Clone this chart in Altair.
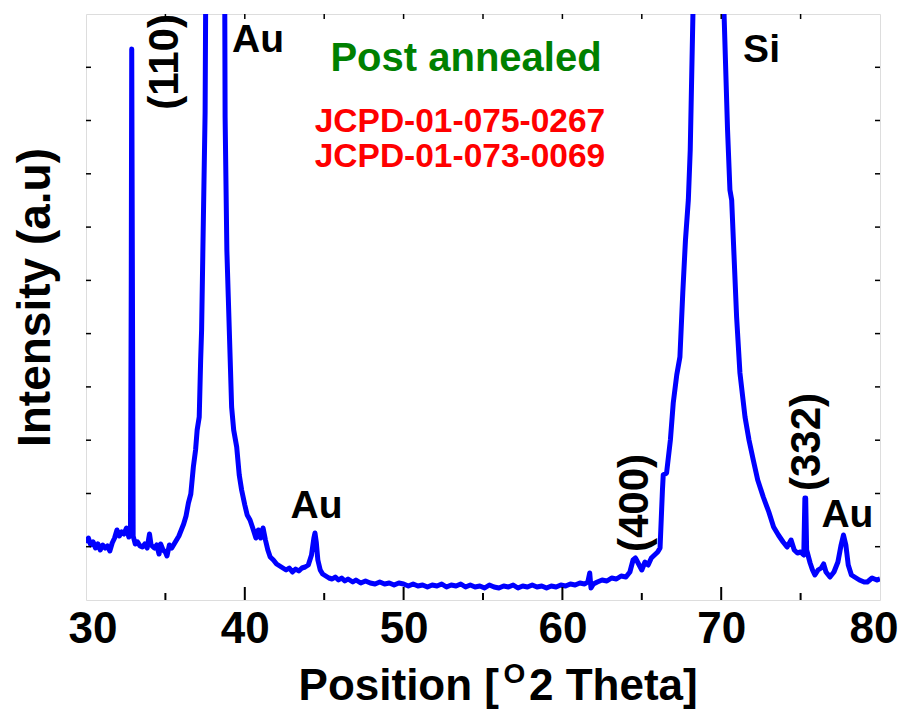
import altair as alt
import pandas as pd

# ---- XRD pattern (2theta, intensity a.u.) ----
two_theta = [
    30.0, 30.15, 30.3, 30.45, 30.6, 30.75, 30.9, 31.05, 31.2, 31.35, 31.5, 31.65, 31.8, 31.95,
    32.1, 32.25, 32.4, 32.55, 32.7, 32.8, 32.85, 32.88, 32.92, 32.97, 33.1, 33.25, 33.4, 33.55,
    33.7, 33.85, 34.0, 34.1, 34.3, 34.45, 34.6, 34.7, 34.85, 35.0, 35.1, 35.25, 35.4, 35.55,
    35.7, 35.85, 36.0, 36.15, 36.3, 36.45, 36.6, 36.76, 36.9, 37.0, 37.13, 37.22, 37.28, 37.38,
    37.5, 37.57, 37.7, 38.2, 38.6, 38.74, 38.76, 38.87, 38.96, 39.1, 39.17, 39.3, 39.49, 39.65,
    39.8, 40.0, 40.15, 40.33, 40.5, 40.7, 40.85, 41.0, 41.15, 41.3, 41.45, 41.6, 41.8, 42.0,
    42.2, 42.4, 42.6, 42.8, 43.0, 43.2, 43.4, 43.6, 43.8, 44.0, 44.2, 44.35, 44.42, 44.5,
    44.6, 44.75, 44.9, 45.1, 45.3, 45.5, 45.7, 45.9, 46.1, 46.3, 46.5, 46.8, 47.0, 47.3,
    47.6, 47.9, 48.2, 48.5, 48.8, 49.1, 49.4, 49.7, 50.0, 50.3, 50.6, 50.9, 51.2, 51.5,
    51.8, 52.1, 52.4, 52.7, 53.0, 53.3, 53.6, 53.9, 54.2, 54.5, 54.8, 55.1, 55.4, 55.7,
    56.0, 56.3, 56.6, 56.9, 57.2, 57.5, 57.8, 58.1, 58.4, 58.7, 59.0, 59.3, 59.6, 59.9,
    60.2, 60.5, 60.8, 61.1, 61.4, 61.6, 61.72, 61.8, 61.95, 62.2, 62.5, 62.8, 63.1, 63.4,
    63.7, 64.0, 64.25, 64.45, 64.6, 64.8, 65.0, 65.2, 65.4, 65.6, 65.8, 66.0, 66.15, 66.3,
    66.35, 66.56, 66.8, 66.98, 67.2, 67.4, 67.58, 67.75, 67.93, 68.05, 68.22, 68.4, 69.3, 70.0,
    70.18, 70.4, 70.55, 70.66, 70.97, 71.18, 71.5, 71.75, 72.02, 72.3, 72.65, 73.0, 73.3, 73.6,
    73.9, 74.15, 74.4, 74.6, 74.8, 75.0, 75.2, 75.27, 75.32, 75.38, 75.6, 75.75, 75.9, 76.1,
    76.3, 76.45, 76.6, 76.85, 77.1, 77.35, 77.55, 77.7, 77.85, 78.0, 78.2, 78.4, 78.7, 79.0,
    79.2, 79.5, 79.8, 80.0,
]
intensity = [
    57, 62, 55, 58, 52, 56, 50, 55, 52, 54, 49, 57, 62, 70,
    64, 68, 66, 72, 63, 66, 320, 551, 330, 64, 56, 58, 54, 53,
    56, 52, 66, 55, 52, 55, 46, 56, 50, 48, 44, 55, 52, 56,
    60, 64, 70, 76, 84, 97, 106, 133, 150, 170, 183, 240, 270, 370,
    487, 700, 1200, 2000, 1200, 586, 483, 350, 303, 230, 193, 170, 153, 125,
    110, 95, 85, 80, 72, 62, 70, 62, 72, 60, 50, 43, 40, 36,
    34, 32, 30, 32, 28, 31, 29, 32, 33, 35, 45, 62, 67, 58,
    40, 30, 26, 24, 22, 21, 23, 20, 22, 19, 21, 18, 20, 17,
    19, 17, 16, 18, 16, 17, 15, 17, 16, 14, 16, 14, 15, 13,
    15, 14, 16, 13, 15, 14, 16, 13, 15, 13, 14, 12, 15, 13,
    12, 14, 13, 15, 12, 14, 13, 15, 13, 14, 12, 14, 13, 15,
    14, 16, 15, 17, 16, 18, 27, 12, 16, 18, 20, 19, 22, 21,
    24, 23, 28, 40, 42, 36, 30, 38, 35, 42, 45, 48, 52, 110,
    125, 127, 160, 197, 225, 243, 307, 360, 400, 450, 586, 900, 2000, 900,
    586, 470, 410, 400, 283, 227, 183, 160, 140, 120, 103, 88, 73, 65,
    58, 53, 60, 50, 47, 48, 45, 102, 102, 50, 37, 30, 25, 30,
    32, 36, 28, 23, 28, 38, 55, 65, 55, 35, 25, 23, 20, 18,
    18, 22, 20, 21,
]

# ---- annotations ----
peak_labels = ["Au", "Au", "Au", "Si"]
peak_label_x = [40.83, 44.52, 77.95, 72.54]
peak_label_y = [548, 82, 73, 538]

hkl_labels = ["(110)", "(400)", "(332)"]
hkl_x = [34.97, 64.57, 75.43]
hkl_y = [538, 97, 158]

title_text = ["Post annealed"]
title_x = [53.93]
title_y = [529]

ref_text = ["JCPD-01-075-0267", "JCPD-01-073-0069"]
ref_x = [53.55, 53.55]
ref_y = [468, 433]

x_ticks_major = [40, 50, 60, 70]
x_ticks_minor = [35, 45, 55, 65, 75]
x_ticks_top = [35, 40, 45, 50, 55, 60, 65, 70, 75]
y_ticks = [53.3, 106.5, 159.8, 213.1, 266.4, 319.6, 372.9, 426.2, 479.5, 532.7]

W, H = 794, 586
FONT = "Liberation Sans"

xs = alt.Scale(domain=[30, 80], nice=False, zero=False)
ys = alt.Scale(domain=[0, 586], nice=False, zero=False)

curve = pd.DataFrame({"x": two_theta, "y": intensity})

line = alt.Chart(curve).mark_line(
    color="#0000FF", strokeWidth=5, clip=True, strokeJoin="round"
).encode(
    x=alt.X("x:Q", scale=xs,
            axis=alt.Axis(values=[30, 40, 50, 60, 70, 80], ticks=False, tickSize=0, domain=False,
                          grid=False, labelFont=FONT, labelFontSize=44, labelFontWeight="bold",
                          labelColor="black", labelPadding=7, labelFlush=True,
                          labelFlushOffset=18, title=None)),
    y=alt.Y("y:Q", scale=ys,
            axis=alt.Axis(labels=False, ticks=False, tickSize=0, domain=False, grid=False,
                          title="Intensity (a.u)", titleFont=FONT, titleFontSize=46,
                          titleFontWeight="bold", titleColor="black", titleAngle=270,
                          titleX=-37, titleY=283, titleAlign="center",
                          titleBaseline="alphabetic")),
)

tmaj = alt.Chart(pd.DataFrame({"x": x_ticks_major})).mark_rule(color="black", strokeWidth=2).encode(
    x=alt.X("x:Q", scale=xs), y=alt.value(H), y2=alt.value(H - 13))
tmin = alt.Chart(pd.DataFrame({"x": x_ticks_minor})).mark_rule(color="black", strokeWidth=2).encode(
    x=alt.X("x:Q", scale=xs), y=alt.value(H), y2=alt.value(H - 7))
ttop = alt.Chart(pd.DataFrame({"x": x_ticks_top})).mark_rule(color="black", strokeWidth=1.5).encode(
    x=alt.X("x:Q", scale=xs), y=alt.value(0), y2=alt.value(5))
tleft = alt.Chart(pd.DataFrame({"y": y_ticks})).mark_rule(color="black", strokeWidth=1.5).encode(
    y=alt.Y("y:Q", scale=ys), x=alt.value(0), x2=alt.value(5))
tright = alt.Chart(pd.DataFrame({"y": y_ticks})).mark_rule(color="black", strokeWidth=1.5).encode(
    y=alt.Y("y:Q", scale=ys), x=alt.value(W), x2=alt.value(W - 5))

peaks = alt.Chart(pd.DataFrame({"x": peak_label_x, "y": peak_label_y, "t": peak_labels})).mark_text(
    font=FONT, fontSize=39, fontWeight="bold", color="black", align="center", baseline="alphabetic"
).encode(x=alt.X("x:Q", scale=xs), y=alt.Y("y:Q", scale=ys), text="t:N")

hkl = alt.Chart(pd.DataFrame({"x": hkl_x, "y": hkl_y, "t": hkl_labels})).mark_text(
    font=FONT, fontSize=42, fontWeight="bold", color="black", align="center", baseline="middle",
    angle=270
).encode(x=alt.X("x:Q", scale=xs), y=alt.Y("y:Q", scale=ys), text="t:N")

ttl = alt.Chart(pd.DataFrame({"x": title_x, "y": title_y, "t": title_text})).mark_text(
    font=FONT, fontSize=40, fontWeight="bold", color="#008000", align="center", baseline="alphabetic"
).encode(x=alt.X("x:Q", scale=xs), y=alt.Y("y:Q", scale=ys), text="t:N")

refs = alt.Chart(pd.DataFrame({"x": ref_x, "y": ref_y, "t": ref_text})).mark_text(
    font=FONT, fontSize=33.5, fontWeight="bold", color="#FF0000", align="center", baseline="alphabetic"
).encode(x=alt.X("x:Q", scale=xs), y=alt.Y("y:Q", scale=ys), text="t:N")

# x-axis title with superscript O
xt1 = alt.Chart(pd.DataFrame({"t": ["Position ["]})).mark_text(
    font=FONT, fontSize=44, fontWeight="bold", color="black", align="right", baseline="alphabetic"
).encode(x=alt.value(413), y=alt.value(686), text="t:N")
xt2 = alt.Chart(pd.DataFrame({"t": ["O"]})).mark_text(
    font=FONT, fontSize=28, fontWeight="bold", color="black", align="center", baseline="alphabetic"
).encode(x=alt.value(428.5), y=alt.value(669), text="t:N")
xt3 = alt.Chart(pd.DataFrame({"t": ["2 Theta]"]})).mark_text(
    font=FONT, fontSize=44, fontWeight="bold", color="black", align="left", baseline="alphabetic"
).encode(x=alt.value(443), y=alt.value(686), text="t:N")

chart = alt.layer(
    line, tmaj, tmin, ttop, tleft, tright, peaks, hkl, ttl, refs, xt1, xt2, xt3
).properties(
    width=W, height=H,
    autosize=alt.AutoSizeParams(type="none"),
    padding={"left": 78, "top": 6, "right": 19, "bottom": 110},
).configure_view(
    stroke="black", strokeWidth=2.5
).configure(background="white")

chart.save("out.html", embed_options={"renderer": "svg", "actions": False})
